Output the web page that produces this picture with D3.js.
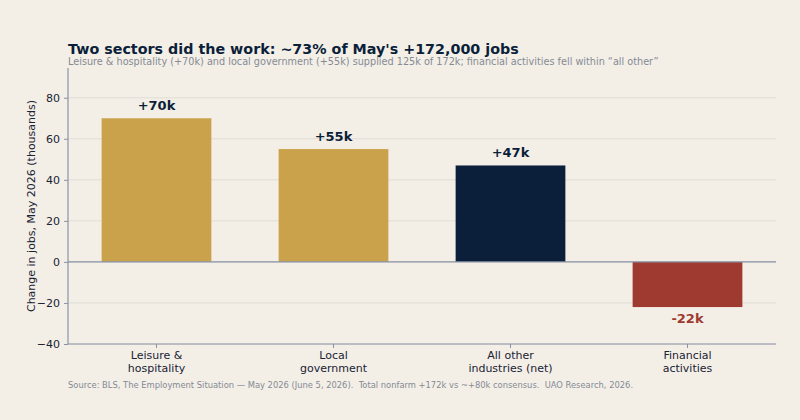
<!DOCTYPE html>
<html>
<head>
<meta charset="utf-8">
<script src="https://cdn.jsdelivr.net/npm/d3@7"></script>
<style>
  body { margin: 0; background: #f3efe7; }
  svg { display: block; font-family: "DejaVu Sans", sans-serif; }
</style>
</head>
<body>
<svg width="800" height="420"></svg>
<script>
// categories and values (thousands of jobs)
const categories = [["Leisure &", "hospitality"], ["Local", "government"], ["All other", "industries (net)"], ["Financial", "activities"]];
const values = [70, 55, 47, -22];
const valueLabels = ["+70k", "+55k", "+47k", "-22k"];
const barColors = ["#c9a24b", "#c9a24b", "#0b1f3a", "#9e3a2f"];
const yTicks = [-40, -20, 0, 20, 40, 60, 80];

const svg = d3.select("svg");
svg.append("rect").attr("width", 800).attr("height", 420).attr("fill", "#f3efe7");

const plotLeft = 68, plotRight = 776, plotTop = 68, plotBottom = 344;

const x = d3.scaleBand()
  .domain(d3.range(values.length))
  .range([plotLeft, plotRight])
  .paddingInner(0.38)
  .paddingOuter(0.19);

const y = d3.scaleLinear().domain([-40, 94.5]).range([plotBottom, plotTop]);

//gridlines
svg.append("g")
  .selectAll("line")
  .data(yTicks)
  .join("line")
  .attr("x1", plotLeft)
  .attr("x2", plotRight)
  .attr("y1", (d) => y(d))
  .attr("y2", (d) => y(d))
  .attr("stroke", "#dcd8d0")
  .attr("stroke-width", 0.8);

//bars
svg.append("g")
  .selectAll("rect")
  .data(values)
  .join("rect")
  .attr("x", (d, i) => x(i))
  .attr("width", x.bandwidth())
  .attr("y", (d) => y(Math.max(0, d)))
  .attr("height", (d) => Math.abs(y(d) - y(0)))
  .attr("fill", (d, i) => barColors[i]);

//zero line
svg.append("line")
  .attr("x1", plotLeft).attr("x2", plotRight)
  .attr("y1", y(0)).attr("y2", y(0))
  .attr("stroke", "#8a93a6").attr("stroke-width", 1.2);

//value labels
svg.append("g")
  .selectAll("text")
  .data(values)
  .join("text")
  .attr("x", (d, i) => x(i) + x.bandwidth() / 2)
  .attr("y", (d) => (d >= 0 ? y(d) - 8 : y(d) + 16))
  .attr("text-anchor", "middle")
  .attr("font-size", 13)
  .attr("font-weight", "bold")
  .attr("fill", (d) => (d >= 0 ? "#0b1f3a" : "#9e3a2f"))
  .text((d, i) => valueLabels[i]);

//y axis
const yAxis = svg.append("g")
  .attr("transform", `translate(${plotLeft},0)`)
  .call(d3.axisLeft(y).tickValues(yTicks).tickSize(4).tickPadding(4).tickFormat((d) => d < 0 ? "\u2212" + Math.abs(d) : d));
yAxis.select(".domain").attr("stroke", "#8a93a6").attr("stroke-width", 1.2)
  .attr("d", `M0,${plotTop}V${plotBottom}`);
yAxis.selectAll(".tick line").attr("stroke", "#8a93a6");
yAxis.selectAll("text").attr("font-size", 11).attr("fill", "#1a2233").attr("font-family", "DejaVu Sans");

//x axis
const xAxis = svg.append("g")
  .attr("transform", `translate(0,${plotBottom})`)
  .call(d3.axisBottom(x).tickSize(4).tickFormat(""));
xAxis.select(".domain").attr("stroke", "#8a93a6").attr("stroke-width", 1.2)
  .attr("d", `M${plotLeft},0H${plotRight}`);
xAxis.selectAll(".tick line").attr("stroke", "#8a93a6");

//category labels
const catText = svg.append("g")
  .selectAll("text")
  .data(categories)
  .join("text")
  .attr("x", (d, i) => x(i) + x.bandwidth() / 2)
  .attr("y", 359)
  .attr("text-anchor", "middle")
  .attr("font-size", 11)
  .attr("fill", "#1a2233");
catText.selectAll("tspan")
  .data((d) => d)
  .join("tspan")
  .attr("x", function () { return d3.select(this.parentNode).attr("x"); })
  .attr("dy", (d, i) => (i === 0 ? 0 : 13))
  .text((d) => d);

//y axis label
svg.append("text")
  .attr("transform", `translate(35,${(plotTop + plotBottom) / 2}) rotate(-90)`)
  .attr("text-anchor", "middle")
  .attr("font-size", 11)
  .attr("fill", "#1a2233")
  .text("Change in jobs, May 2026 (thousands)");

//title and subtitle
svg.append("text")
  .attr("x", 68).attr("y", 54)
  .attr("font-size", 14.3)
  .attr("font-weight", "bold")
  .attr("fill", "#0b1f3a")
  .text("Two sectors did the work: ~73% of May's +172,000 jobs");
svg.append("text")
  .attr("x", 68).attr("y", 64.5)
  .attr("font-size", 9.7)
  .attr("fill", "#858a94")
  .text("Leisure & hospitality (+70k) and local government (+55k) supplied 125k of 172k; financial activities fell within \u201call other\u201d");

//source
svg.append("text")
  .attr("x", 68).attr("y", 388)
  .attr("font-size", 8.35)
  .attr("fill", "#858a94")
  .style("white-space", "pre")
  .text("Source: BLS, The Employment Situation \u2014 May 2026 (June 5, 2026).  Total nonfarm +172k vs ~+80k consensus.  UAO Research, 2026.");
</script>
</body>
</html>
